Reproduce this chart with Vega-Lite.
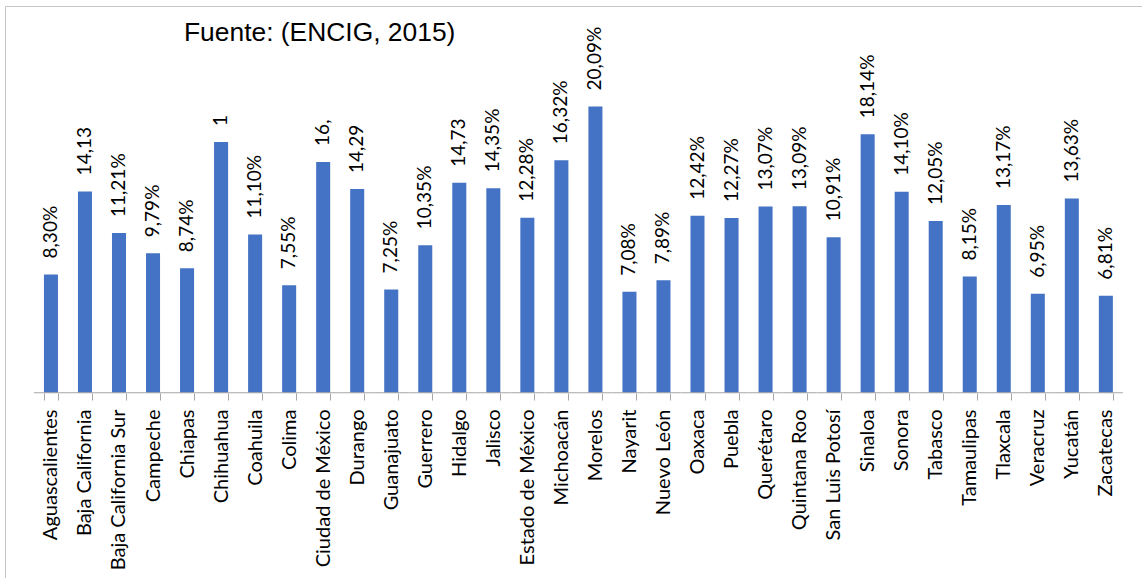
{
  "$schema": "https://vega.github.io/schema/vega-lite/v6.json",
  "autosize": "none",
  "width": 1137,
  "height": 572,
  "padding": {"left": 5, "top": 6, "right": 0, "bottom": 0},
  "background": "white",
  "config": {
    "view": {"stroke": "#c6c6c6", "strokeWidth": 1},
    "font": "Lato"
  },
  "title": {
    "text": "Fuente: (ENCIG, 2015)",
    "anchor": "start",
    "frame": "group",
    "orient": "none",
    "baseline": "alphabetic",
    "align": "left",
    "offset": 0,
    "dx": 179,
    "dy": 35,
    "font": "Liberation Sans",
    "fontSize": 26.4,
    "fontWeight": "normal",
    "color": "#000000"
  },
  "data": {
    "values": [
      {"estado": "Aguascalientes", "valor": 8.30, "label": "8,30%"},
      {"estado": "Baja California", "valor": 14.13, "label": "14,13"},
      {"estado": "Baja California Sur", "valor": 11.21, "label": "11,21%"},
      {"estado": "Campeche", "valor": 9.79, "label": "9,79%"},
      {"estado": "Chiapas", "valor": 8.74, "label": "8,74%"},
      {"estado": "Chihuahua", "valor": 17.6, "label": "1"},
      {"estado": "Coahuila", "valor": 11.10, "label": "11,10%"},
      {"estado": "Colima", "valor": 7.55, "label": "7,55%"},
      {"estado": "Ciudad de México", "valor": 16.2, "label": "16,"},
      {"estado": "Durango", "valor": 14.29, "label": "14,29"},
      {"estado": "Guanajuato", "valor": 7.25, "label": "7,25%"},
      {"estado": "Guerrero", "valor": 10.35, "label": "10,35%"},
      {"estado": "Hidalgo", "valor": 14.73, "label": "14,73"},
      {"estado": "Jalisco", "valor": 14.35, "label": "14,35%"},
      {"estado": "Estado de México", "valor": 12.28, "label": "12,28%"},
      {"estado": "Michoacán", "valor": 16.32, "label": "16,32%"},
      {"estado": "Morelos", "valor": 20.09, "label": "20,09%"},
      {"estado": "Nayarit", "valor": 7.08, "label": "7,08%"},
      {"estado": "Nuevo León", "valor": 7.89, "label": "7,89%"},
      {"estado": "Oaxaca", "valor": 12.42, "label": "12,42%"},
      {"estado": "Puebla", "valor": 12.27, "label": "12,27%"},
      {"estado": "Querétaro", "valor": 13.07, "label": "13,07%"},
      {"estado": "Quintana Roo", "valor": 13.09, "label": "13,09%"},
      {"estado": "San Luis Potosí", "valor": 10.91, "label": "10,91%"},
      {"estado": "Sinaloa", "valor": 18.14, "label": "18,14%"},
      {"estado": "Sonora", "valor": 14.10, "label": "14,10%"},
      {"estado": "Tabasco", "valor": 12.05, "label": "12,05%"},
      {"estado": "Tamaulipas", "valor": 8.15, "label": "8,15%"},
      {"estado": "Tlaxcala", "valor": 13.17, "label": "13,17%"},
      {"estado": "Veracruz", "valor": 6.95, "label": "6,95%"},
      {"estado": "Yucatán", "valor": 13.63, "label": "13,63%"},
      {"estado": "Zacatecas", "valor": 6.81, "label": "6,81%"}
    ]
  },
  "encoding": {
    "x": {
      "field": "estado",
      "type": "nominal",
      "sort": null,
      "scale": {"paddingInner": 0.588, "paddingOuter": 1.029, "align": 0.572, "round": false},
      "axis": {
        "title": null,
        "orient": "bottom",
        "offset": -185,
        "domain": false,
        "tickBand": "extent",
        "ticks": true,
        "tickSize": 7,
        "tickColor": "#a6a6a6",
        "labelAngle": -90,
        "labelAlign": "right",
        "labelBaseline": "middle",
        "labelPadding": 9,
        "labelFont": "Lato",
        "labelFontSize": 20,
        "labelColor": "#000000",
        "labelOverlap": false,
        "labelLimit": 300
      }
    }
  },
  "layer": [
    {
      "mark": {"type": "bar", "color": "#4472C4"},
      "encoding": {
        "y": {
          "field": "valor",
          "type": "quantitative",
          "scale": {"domain": [-13.0, 27.14], "nice": false, "zero": false},
          "axis": null
        }
      }
    },
    {
      "mark": {"type": "tick", "orient": "horizontal", "thickness": 1, "color": "#a6a6a6", "opacity": 1},
      "encoding": {
        "y": {"datum": 0, "type": "quantitative"},
        "size": {"value": 34}
      }
    },
    {
      "mark": {"type": "text", "angle": 270, "align": "left", "baseline": "middle", "dx": 16, "font": "Lato", "fontSize": 19, "color": "#000000"},
      "encoding": {
        "y": {"field": "valor", "type": "quantitative"},
        "text": {"field": "label"}
      }
    }
  ]
}
